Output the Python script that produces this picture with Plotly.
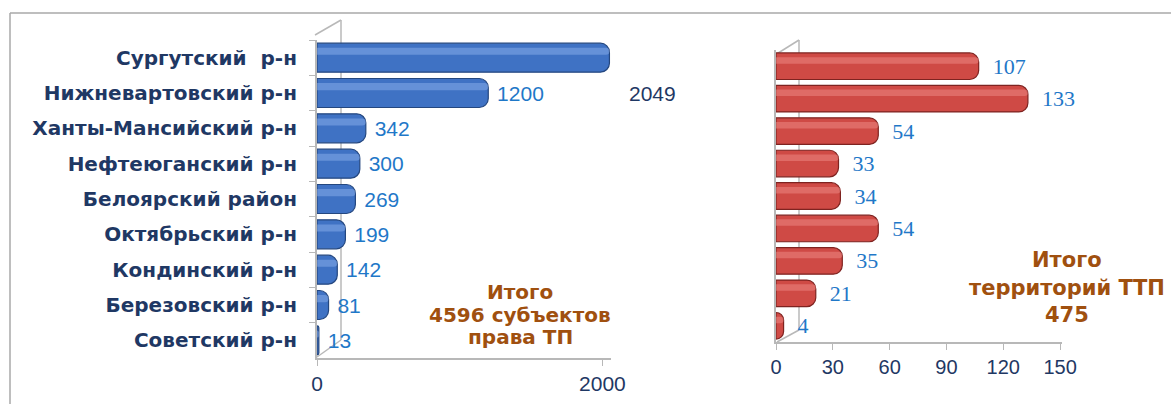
import plotly.graph_objects as go

categories = ["Сургутский  р-н", "Нижневартовский р-н", "Ханты-Мансийский р-н",
              "Нефтеюганский р-н", "Белоярский район", "Октябрьский р-н",
              "Кондинский р-н", "Березовский р-н", "Советский р-н"]
subjects_tp = [2049, 1200, 342, 300, 269, 199, 142, 81, 13]
territories_ttp = [107, 133, 54, 33, 34, 54, 35, 21, 4]
left_ticks = [0, 2000]
right_ticks = [0, 30, 60, 90, 120, 150]
left_total_lines = ["Итого", "4596 субъектов", "права ТП"]
right_total_lines = ["Итого", "территорий ТТП", "475"]

W, H = 1171, 404
def px(x): return x / W
def py(y): return 1 - y / H

NAVY = "#1f3864"
LBLUE = "#1f78c8"
BROWN = "#a0500f"
GRID = "#b8b8b8"

fig = go.Figure()

left_text = [""] + [" " + str(v) for v in subjects_tp[1:]]
fig.add_trace(go.Bar(
    y=categories, x=subjects_tp, orientation="h", xaxis="x", yaxis="y",
    width=0.82, offset=-0.41,
    marker=dict(color="#3f72c4", line=dict(color="#24477f", width=1.2)),
    text=left_text, textposition="outside", cliponaxis=False,
    textfont=dict(family="Arial", size=21, color=LBLUE),
    showlegend=False, hoverinfo="x+y"))
fig.add_trace(go.Bar(
    y=categories, x=subjects_tp, orientation="h", xaxis="x", yaxis="y",
    width=0.2, offset=-0.28,
    marker=dict(color="rgba(140,175,235,0.5)", line=dict(width=0)),
    showlegend=False, hoverinfo="skip"))

fig.add_trace(go.Bar(
    y=categories, x=territories_ttp, orientation="h", xaxis="x2", yaxis="y2",
    width=0.82, offset=-0.41,
    marker=dict(color="#cf4a45", line=dict(color="#7e2320", width=1.2)),
    text=["  " + str(v) for v in territories_ttp], textposition="outside", cliponaxis=False,
    textfont=dict(family="Liberation Serif", size=22, color=LBLUE),
    showlegend=False, hoverinfo="x+y"))
fig.add_trace(go.Bar(
    y=categories, x=territories_ttp, orientation="h", xaxis="x2", yaxis="y2",
    width=0.2, offset=-0.28,
    marker=dict(color="rgba(240,140,135,0.5)", line=dict(width=0)),
    showlegend=False, hoverinfo="skip"))

annotations = [
    dict(x=subjects_tp[0], y=categories[1], xref="x", yref="y", text=str(subjects_tp[0]),
         showarrow=False, xanchor="left", xshift=18,
         font=dict(family="Arial", size=21, color=NAVY)),
]
for line, yy in zip(left_total_lines, [292, 315, 337]):
    annotations.append(dict(x=px(520), y=py(yy), xref="paper", yref="paper",
                            text="<b>" + line + "</b>", showarrow=False,
                            xanchor="center", yanchor="middle",
                            font=dict(family="DejaVu Sans", size=20, color=BROWN)))
for line, yy in zip(right_total_lines, [260, 288, 315]):
    annotations.append(dict(x=px(1067), y=py(yy), xref="paper", yref="paper",
                            text="<b>" + line + "</b>", showarrow=False,
                            xanchor="center", yanchor="middle",
                            font=dict(family="DejaVu Sans", size=21, color=BROWN)))

def seg(x0, y0, x1, y1, color=GRID, w=1.5):
    return dict(type="line", xref="paper", yref="paper", x0=px(x0), y0=py(y0),
                x1=px(x1), y1=py(y1), line=dict(color=color, width=w), layer="below")

shapes = [
    seg(10, 13, W, 13, "#a8a8a8", 1.5),
    seg(10, 13, 10, H, "#a8a8a8", 1.5),
    seg(341, 20, 341, 340), seg(315, 35, 341, 20), seg(317, 357, 341, 340),
    seg(799, 40, 799, 330), seg(775, 55, 799, 40), seg(777, 342, 799, 330),
]

fig.update_layout(
    width=W, height=H, margin=dict(l=0, r=0, t=0, b=0, autoexpand=False),
    paper_bgcolor="white", plot_bgcolor="rgba(0,0,0,0)",
    barmode="overlay", barcornerradius=9,
    annotations=annotations, shapes=shapes,
    xaxis=dict(domain=[px(317), px(611)], range=[0, 2060], anchor="y",
               tickvals=left_ticks, showgrid=False, zeroline=False, automargin=False,
               showline=True, linecolor=GRID, linewidth=2,
               ticks="outside", ticklen=6, tickcolor=GRID,
               tickfont=dict(family="Arial", size=21, color=NAVY)),
    yaxis=dict(domain=[py(358), py(40)], anchor="x", autorange="reversed",
               type="category", showgrid=False, zeroline=False, automargin=False,
               showline=True, linecolor=GRID, linewidth=2,
               ticks="outside", ticklen=6, tickcolor=GRID, tickson="boundaries",
               ticklabelstandoff=14,
               tickfont=dict(family="DejaVu Sans", size=20, color=NAVY, weight="bold")),
    xaxis2=dict(domain=[px(776), px(1062)], range=[0, 151], anchor="y2",
                tickvals=right_ticks, showgrid=False, zeroline=False, automargin=False,
                showline=True, linecolor=GRID, linewidth=2,
                ticks="outside", ticklen=6, tickcolor=GRID,
                tickfont=dict(family="Arial", size=20, color=NAVY)),
    yaxis2=dict(domain=[py(342), py(50)], anchor="x2", autorange="reversed",
                type="category", showgrid=False, zeroline=False, automargin=False,
                showline=True, linecolor=GRID, linewidth=2,
                showticklabels=False, ticks=""),
)

fig.write_html("out.html", config={"displayModeBar": False},
               post_script="document.body.style.margin='0px';")
